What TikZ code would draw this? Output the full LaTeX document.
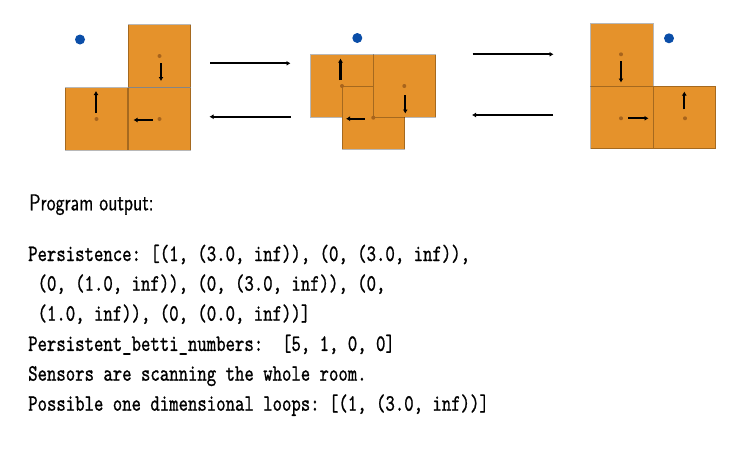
\documentclass[tikz,border=0pt]{standalone}
\usepackage{fontspec}
\setmonofont{lmmono10-regular.otf}[FakeStretch=0.762,FakeBold=0.9]
\setsansfont{lmsans10-regular.otf}[FakeStretch=0.775,FakeBold=0.6]
\usetikzlibrary{arrows.meta}
\definecolor{cellfill}{HTML}{E5922B}
\definecolor{dotc}{HTML}{A8641C}
\definecolor{sensor}{HTML}{0B4EA8}
\begin{document}
\frenchspacing
\begin{tikzpicture}[x=1pt,y=-1pt,
  cell/.style={rectangle, minimum size=62.5pt, inner sep=0pt, fill=cellfill, draw=black, draw opacity=0.28, line width=0.8pt},
  cdot/.style={circle, fill=dotc, minimum size=4pt, inner sep=0pt},
  sens/.style={circle, fill=sensor, minimum size=10pt, inner sep=0pt},
  vec/.style={line width=2.2pt, -{Latex[length=4pt,width=5pt]}},
  mapar/.style={line width=2.2pt, -{Latex[length=4pt,width=5pt]}},
  txt/.style={anchor=base west, inner sep=0pt, font=\fontsize{23}{26}\selectfont\sffamily},
  mono/.style={anchor=base west, inner sep=0pt, font=\fontsize{23.5}{26}\selectfont\ttfamily}]
\useasboundingbox (0,0) rectangle (745,450);

% ---- figure 1
\node[cell] (a1) at (159.5,56) {};
\node[cell] (a2) at (96.5,119) {};
\node[cell] (a3) at (159.5,119) {};
\node[cdot] (da1) at (a1.center) {};
\node[cdot] (da2) at (a2.center) {};
\node[cdot] (da3) at (a3.center) {};
\node[sens] (sa) at (80,39.5) {};
\coordinate (a1s) at (161,63); \coordinate (a1e) at (161,81);
\coordinate (a2s) at (96,113); \coordinate (a2e) at (96,91);
\coordinate (a3s) at (153,120); \coordinate (a3e) at (133.5,120);
\draw[vec] (a1s) -- (a1e);
\draw[vec] (a2s) -- (a2e);
\draw[vec] (a3s) -- (a3e);

% ---- arrows 1 <-> 2
\coordinate (p1) at (210,63.3); \coordinate (q1) at (290.5,63.3);
\coordinate (p2) at (290.5,116.7); \coordinate (q2) at (209.5,116.7);
\draw[mapar] (p1) -- (q1);
\draw[mapar, line width=1.8pt] (p2) -- (q2);

% ---- figure 2
\node[cell] (b1) at (342,86) {};
\node[cell] (b3) at (373.3,117.7) {};
\node[cell] (b2) at (404.3,86) {};
\node[cdot] (db1) at (b1.center) {};
\node[cdot] (db2) at (b2.center) {};
\node[cdot] (db3) at (b3.center) {};
\node[sens] (sb) at (357.3,38) {};
\coordinate (b1s) at (340.5,80); \coordinate (b1e) at (340.5,58.5);
\coordinate (b2s) at (405.3,95); \coordinate (b2e) at (405.3,113.5);
\coordinate (b3s) at (364.5,118.7); \coordinate (b3e) at (346,118.7);
\draw[vec] (b1s) -- (b1e);
\draw[vec] (b2s) -- (b2e);
\draw[vec] (b3s) -- (b3e);

% ---- arrows 2 <-> 3
\coordinate (p3) at (472.7,54.3); \coordinate (q3) at (553.5,54.3);
\coordinate (p4) at (553,115); \coordinate (q4) at (472,115);
\draw[mapar, line width=1.8pt] (p3) -- (q3);
\draw[mapar, line width=2.4pt] (p4) -- (q4);

% ---- figure 3
\node[cell] (c1) at (622,55) {};
\node[cell] (c2) at (622,117.5) {};
\node[cell] (c3) at (684.3,117.5) {};
\node[cdot] (dc1) at (621,54.3) {};
\node[cdot] (dc2) at (621,118.3) {};
\node[cdot] (dc3) at (685,118.3) {};
\node[sens] (sc) at (669,38.3) {};
\coordinate (c1s) at (621,61); \coordinate (c1e) at (621,82.5);
\coordinate (c2s) at (628.3,118.3); \coordinate (c2e) at (648.5,118.3);
\coordinate (c3s) at (684.3,109.3); \coordinate (c3e) at (684.3,91.5);
\draw[vec] (c1s) -- (c1e);
\draw[vec] (c2s) -- (c2e);
\draw[vec] (c3s) -- (c3e);

% ---- text
\node[txt] (t0) at (29,210.3) {Program output:};
\node[mono] (t1) at (28,261) {Persistence: [(1, (3.0, inf)), (0, (3.0, inf)),};
\node[mono] (t2) at (28,290.7) {\ (0, (1.0, inf)), (0, (3.0, inf)), (0,};
\node[mono] (t3) at (28,320.7) {\ (1.0, inf)), (0, (0.0, inf))]};
\node[mono] (t4) at (28,350.9) {Persistent\_betti\_numbers:~ [5, 1, 0, 0]};
\node[mono] (t5) at (28,380.7) {Sensors are scanning the whole room.};
\node[mono] (t6) at (28,410.7) {Possible one dimensional loops: [(1, (3.0, inf))]};
\end{tikzpicture}
\end{document}
